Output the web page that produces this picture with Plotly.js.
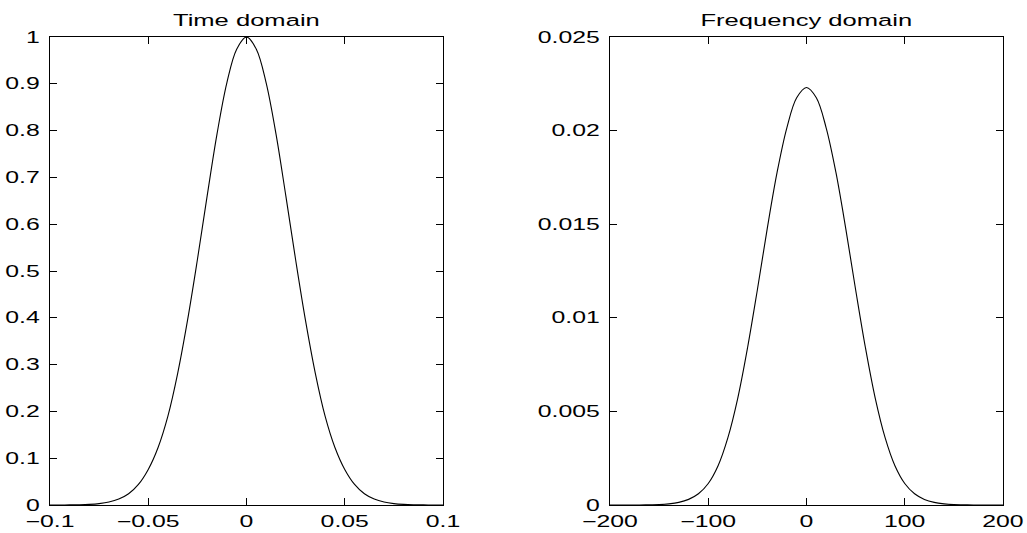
<!DOCTYPE html>
<html>
<head>
<meta charset="utf-8">
<script src="https://cdn.plot.ly/plotly-3.0.1.min.js"></script>
<style>
  html, body { margin: 0; padding: 0; background: #fff; }
  #chart { width: 1027px; height: 533px; }
</style>
</head>
<body>
<div id="chart"></div>
<script>
// ---- Data ----
const timeTitle = "Time domain";
const freqTitle = "Frequency domain";

const timeX = [-0.1, -0.095, -0.09, -0.085, -0.08, -0.075, -0.07, -0.065, -0.06, -0.055, -0.05, -0.045, -0.04, -0.035, -0.03, -0.025, -0.02, -0.015, -0.01, -0.005, 0,
               0.005, 0.01, 0.015, 0.02, 0.025, 0.03, 0.035, 0.04, 0.045, 0.05, 0.055, 0.06, 0.065, 0.07, 0.075, 0.08, 0.085, 0.09, 0.095, 0.1];
const timeY = [0, 0.0001, 0.0002, 0.0005, 0.0013, 0.003, 0.0063, 0.0127, 0.024, 0.044, 0.076, 0.123, 0.19, 0.282, 0.395, 0.524, 0.661, 0.793, 0.902, 0.974, 1,
               0.974, 0.902, 0.793, 0.661, 0.524, 0.395, 0.282, 0.19, 0.123, 0.076, 0.044, 0.024, 0.0127, 0.0063, 0.003, 0.0013, 0.0005, 0.0002, 0.0001, 0];

const freqX = [-200, -190, -180, -170, -160, -150, -140, -130, -120, -110, -100, -90, -80, -70, -60, -50, -40, -30, -20, -10, 0,
               10, 20, 30, 40, 50, 60, 70, 80, 90, 100, 110, 120, 130, 140, 150, 160, 170, 180, 190, 200];
const freqY = [0, 0, 0, 0, 0.00001, 0.00002, 0.00006, 0.00014, 0.0003, 0.0006, 0.00115, 0.0021, 0.0036, 0.0057, 0.0084, 0.0115, 0.01475, 0.01775, 0.02015, 0.02175, 0.0223,
               0.02175, 0.02015, 0.01775, 0.01475, 0.0115, 0.0084, 0.0057, 0.0036, 0.0021, 0.00115, 0.0006, 0.0003, 0.00014, 0.00006, 0.00002, 0.00001, 0, 0, 0, 0];

const timeXTicks = [-0.1, -0.05, 0, 0.05, 0.1];
const timeXTickText = ["\u22120.1", "\u22120.05", "0", "0.05", "0.1"];
const timeYTicks = [0, 0.1, 0.2, 0.3, 0.4, 0.5, 0.6, 0.7, 0.8, 0.9, 1];
const timeYTickText = ["0", "0.1", "0.2", "0.3", "0.4", "0.5", "0.6", "0.7", "0.8", "0.9", "1"];
const freqXTicks = [-200, -100, 0, 100, 200];
const freqXTickText = ["\u2212200", "\u2212100", "0", "100", "200"];
const freqYTicks = [0, 0.005, 0.01, 0.015, 0.02, 0.025];
const freqYTickText = ["0", "0.005", "0.01", "0.015", "0.02", "0.025"];

// ---- Layout ----
const W = 1027, H = 533;
const FONT = "Liberation Sans, Arial, Helvetica, sans-serif";
const leftDom = [50 / W, 443 / W];
const rightDom = [610 / W, 1003 / W];
const yDom = [(H - 505) / H, (H - 37) / H];

function axisBase() {
  return {
    showgrid: false, zeroline: false, showline: true, linecolor: "#000", linewidth: 1,
    mirror: "ticks", ticks: "inside", ticklen: 7, tickwidth: 1, tickcolor: "#000",
    tickmode: "array", tickfont: { family: FONT, size: 16, color: "#000" },
    fixedrange: true
  };
}

const traces = [
  { x: timeX, y: timeY, xaxis: "x", yaxis: "y", type: "scatter", mode: "lines",
    line: { color: "#000", width: 1.1, shape: "spline", smoothing: 1 }, hoverinfo: "skip" },
  { x: freqX, y: freqY, xaxis: "x2", yaxis: "y2", type: "scatter", mode: "lines",
    line: { color: "#000", width: 1.1, shape: "spline", smoothing: 1 }, hoverinfo: "skip" }
];

const layout = {
  width: W, height: H,
  margin: { l: 0, r: 0, t: 0, b: 0 },
  paper_bgcolor: "#fff", plot_bgcolor: "#fff",
  showlegend: false,
  font: { family: FONT, size: 16, color: "#000" },
  xaxis: Object.assign(axisBase(), { domain: leftDom, range: [-0.1, 0.1], anchor: "y",
    tickvals: timeXTicks, ticktext: timeXTickText, ticklabelstandoff: 2 }),
  yaxis: Object.assign(axisBase(), { domain: yDom, range: [0, 1], anchor: "x",
    tickvals: timeYTicks, ticktext: timeYTickText, ticklabelstandoff: 6 }),
  xaxis2: Object.assign(axisBase(), { domain: rightDom, range: [-200, 200], anchor: "y2",
    tickvals: freqXTicks, ticktext: freqXTickText, ticklabelstandoff: 2 }),
  yaxis2: Object.assign(axisBase(), { domain: yDom, range: [0, 0.025], anchor: "x2",
    tickvals: freqYTicks, ticktext: freqYTickText, ticklabelstandoff: 6 }),
  annotations: [
    { text: timeTitle, xref: "paper", yref: "paper", x: (leftDom[0] + leftDom[1]) / 2, y: (H - 19.5) / H,
      xanchor: "center", yanchor: "middle", showarrow: false, font: { family: FONT, size: 16.5, color: "#000" } },
    { text: freqTitle, xref: "paper", yref: "paper", x: (rightDom[0] + rightDom[1]) / 2, y: (H - 19.5) / H,
      xanchor: "center", yanchor: "middle", showarrow: false, font: { family: FONT, size: 16.5, color: "#000" } }
  ]
};

// The reference text is drawn horizontally widened; reproduce that by scaling text about its anchor.
function widenText(gd) {
  const s = 1.55;
  gd.querySelectorAll(".xtick text, .x2tick text, .ytick text, .y2tick text, .annotation-text").forEach(t => {
    const bb = t.getBBox();
    const anchor = t.getAttribute("text-anchor") || "start";
    const cx = anchor === "end" ? bb.x + bb.width : anchor === "middle" ? bb.x + bb.width / 2 : bb.x;
    const cy = bb.y + bb.height / 2;
    const orig = t.getAttribute("transform") || "";
    t.setAttribute("transform", orig + " translate(" + cx + "," + cy + ") scale(" + s + ",1) translate(" + (-cx) + "," + (-cy) + ")");
  });
}

Plotly.newPlot("chart", traces, layout, { staticPlot: true, displayModeBar: false })
  .then(gd => widenText(gd));
</script>
</body>
</html>
